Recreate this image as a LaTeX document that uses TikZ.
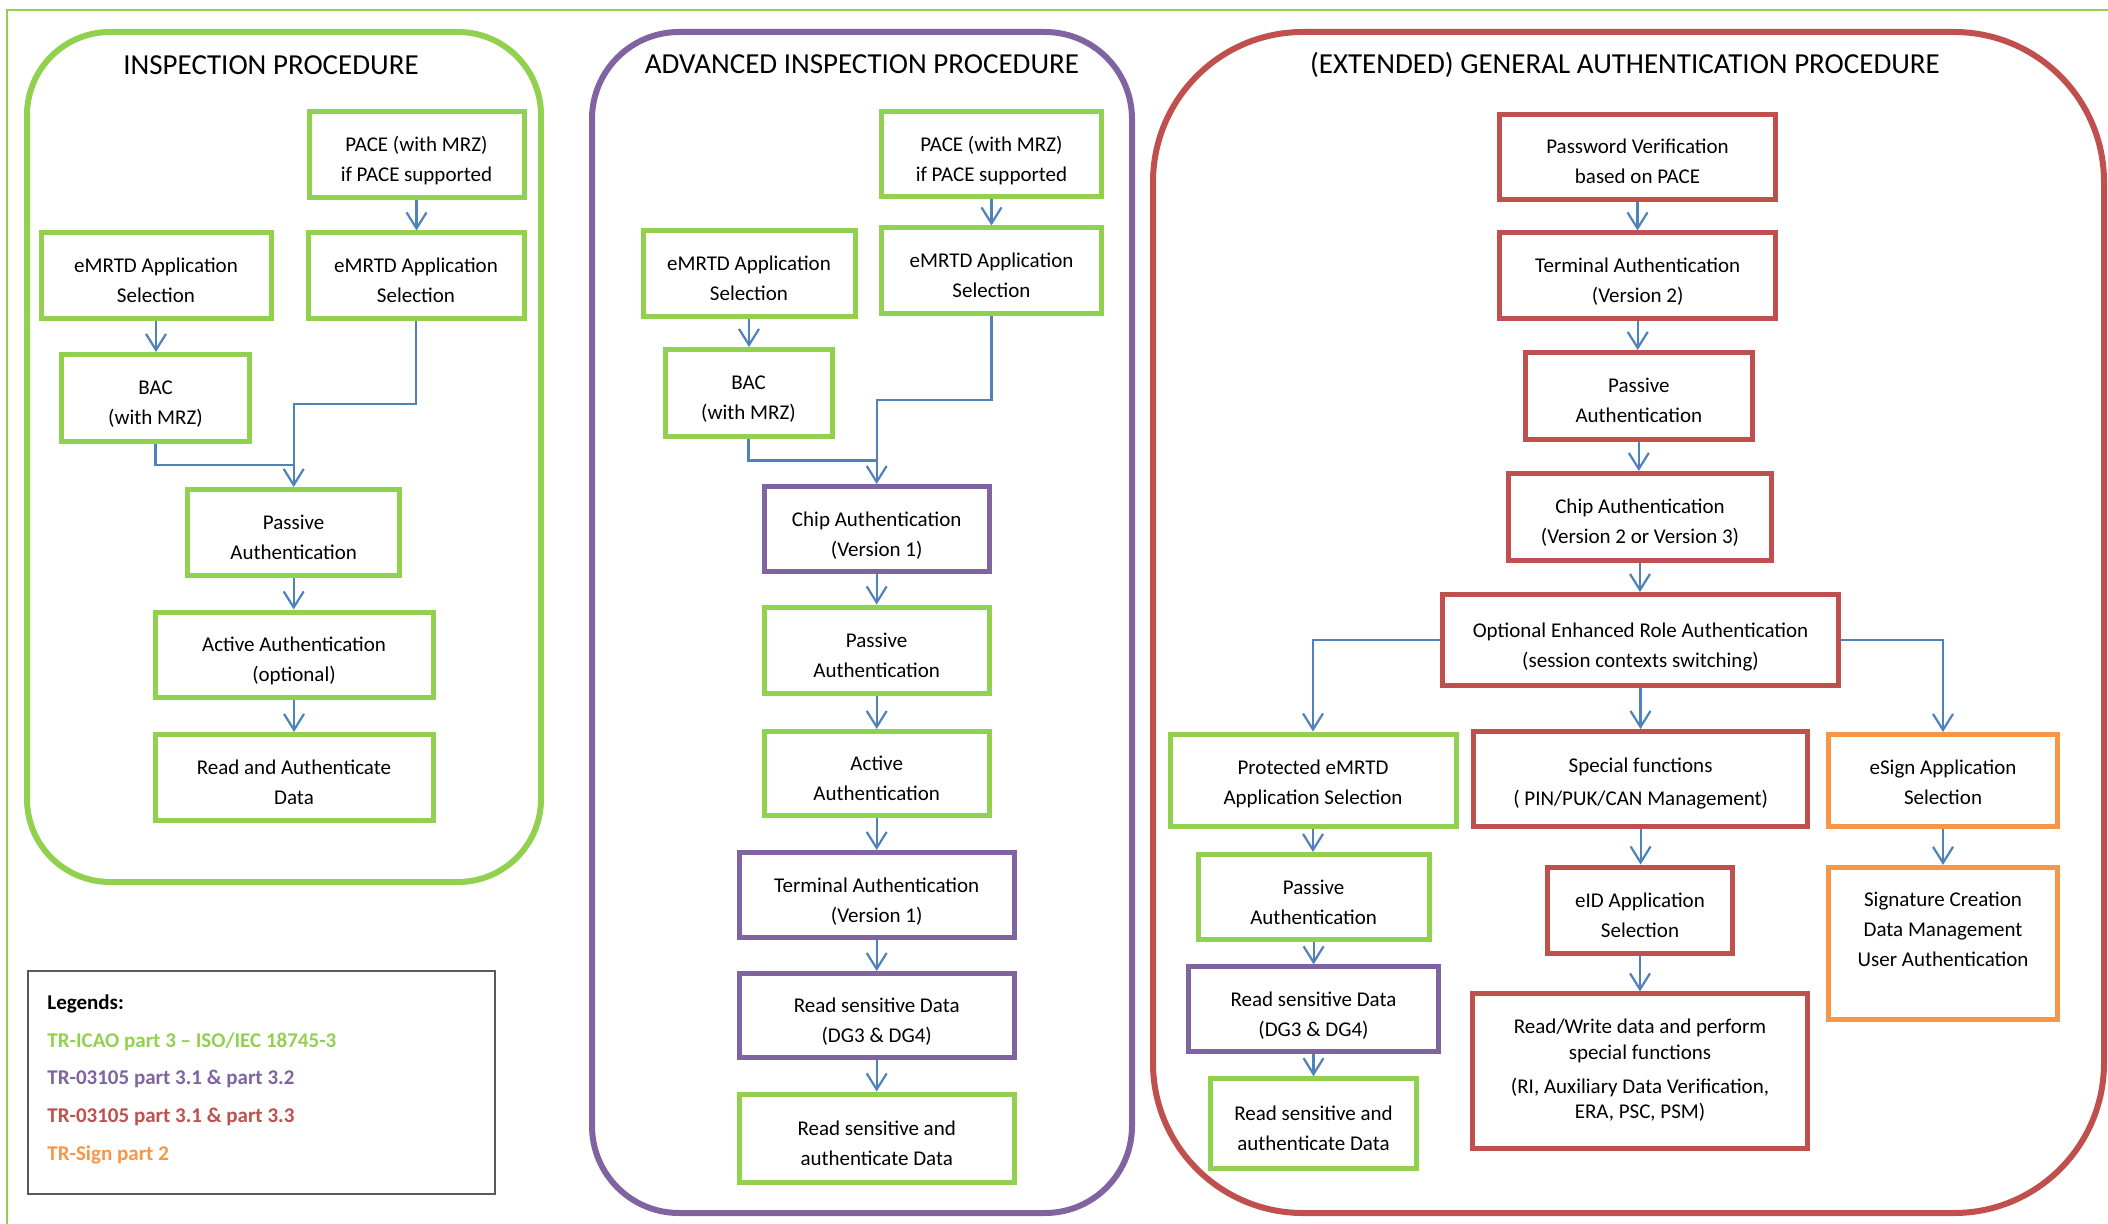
\documentclass[tikz,border=0pt]{standalone}
\usepackage{fontspec}
\setmainfont{Carlito}
\usetikzlibrary{arrows.meta}

\definecolor{lgreen}{RGB}{146,208,80}
\definecolor{lpurple}{RGB}{128,100,162}
\definecolor{lred}{RGB}{192,80,77}
\definecolor{lorange}{RGB}{247,150,70}
\definecolor{lblue}{RGB}{79,129,189}
\definecolor{lgray}{RGB}{89,89,89}

\begin{document}
\begin{tikzpicture}[x=0.5pt, y=-0.5pt,
  box/.style={draw, line width=2.5pt, fill=white, align=center, inner sep=0pt,
    text height=28pt, text depth=1pt, font=\fontsize{10.5}{15}\selectfont},
  gbox/.style={box, draw=lgreen}, pbox/.style={box, draw=lpurple},
  rbox/.style={box, draw=lred}, obox/.style={box, draw=lorange},
  wh/.style 2 args={minimum width=#1*0.5pt, minimum height=#2*0.5pt},
  lowtext/.style={text height=#1, text depth=1pt},
  panel/.style={line width=3pt, rounded corners=#1*0.5pt},
  ttl/.style={anchor=base, font=\fontsize{14.5}{17}\selectfont},
  lnk/.style={draw=lblue, line width=1.1pt},
  conn/.style={lnk, -{Straight Barb[length=8pt, width=10pt]}},
  leg/.style={anchor=base west, inner sep=0pt, font=\fontsize{10.5}{13}\selectfont\bfseries}]
\useasboundingbox (0,0) rectangle (2108,1224);

\draw[lgreen, line width=0.8pt] (2108,10) -- (7,10) -- (7,1224); % page frame

% the three procedures
\draw[lgreen, panel=83] (27,32) rectangle (541,882);
\draw[lpurple, panel=87] (592,32) rectangle (1132,1213);
\draw[lred, panel=150] (1153,32) rectangle (2104,1213);
\node[ttl] (t1) at (271,74.5) {INSPECTION PROCEDURE};
\node[ttl] (t2) at (862,73.5) {ADVANCED INSPECTION PROCEDURE};
\node[ttl] (t3) at (1625,73.5) {(EXTENDED) GENERAL AUTHENTICATION PROCEDURE};

% inspection procedure
\node[gbox, wh={215}{86}] (pace1) at (416.5,155) {PACE (with MRZ)\\if PACE supported};
\node[gbox, wh={230}{86}] (emrtdL1) at (156,276) {eMRTD Application\\Selection};
\node[gbox, wh={216}{86}] (emrtdR1) at (416,276) {eMRTD Application\\Selection};
\node[gbox, wh={188}{87}] (bac1) at (155.5,398) {BAC\\(with MRZ)};
\node[gbox, wh={212}{86}] (pa1) at (293.7,532.5) {Passive\\Authentication};
\node[gbox, wh={278}{85}] (aa1) at (294,654.5) {Active Authentication\\(optional)};
\node[gbox, wh={278}{86}] (rad1) at (294,777.5) {Read and Authenticate\\Data};

% advanced inspection procedure
\node[gbox, wh={220}{85}] (pace2) at (991.5,154.5) {PACE (with MRZ)\\if PACE supported};
\node[gbox, wh={212}{86}] (emrtdL2) at (749,273.3) {eMRTD Application\\Selection};
\node[gbox, wh={220}{86}] (emrtdR2) at (991.5,271) {eMRTD Application\\Selection};
\node[gbox, wh={167}{87}] (bac2) at (748.5,393) {BAC\\(with MRZ)};
\node[pbox, wh={225}{85}] (ca2) at (876.7,529) {Chip Authentication\\(Version 1)};
\node[gbox, wh={225}{86}] (pa2) at (876.7,650) {Passive\\Authentication};
\node[gbox, wh={225}{84}] (aa2) at (876.7,773.5) {Active\\Authentication};
\node[pbox, wh={275}{85}] (ta2) at (876.7,895) {Terminal Authentication\\(Version 1)};
\node[pbox, wh={275}{84}] (rsd2) at (876.7,1015.5) {Read sensitive Data\\(DG3 \& DG4)};
\node[gbox, wh={275}{88}] (rsa2) at (876.7,1138) {Read sensitive and\\authenticate Data};

% general authentication procedure
\node[rbox, wh={276}{85}] (pwd3) at (1637.5,157) {Password Verification\\based on PACE};
\node[rbox, wh={276}{86}] (ta3) at (1637.7,276) {Terminal Authentication\\(Version 2)};
\node[rbox, wh={227}{87}] (pa3) at (1638.8,396) {Passive\\Authentication};
\node[rbox, wh={263}{87}] (ca3) at (1640,517) {Chip Authentication\\(Version 2 or Version 3)};
\node[rbox, wh={396}{91}] (era3) at (1640.5,640) {Optional Enhanced Role Authentication\\(session contexts switching)};
\node[gbox, wh={286}{92}, lowtext=25pt] (prot3) at (1313,780) {Protected eMRTD\\Application Selection};
\node[rbox, wh={334}{95}, lowtext=27pt] (sf3) at (1640.6,779) {Special functions\\[1.5pt]( PIN/PUK/CAN Management)};
\node[obox, wh={229}{92}, lowtext=25pt] (esign3) at (1943,780.5) {eSign Application\\Selection};
\node[gbox, wh={231}{85}] (pa3b) at (1313.6,897) {Passive\\Authentication};
\node[rbox, wh={185}{86}] (eid3) at (1640,910) {eID Application\\Selection};
\node[obox, wh={229}{152}, lowtext=24pt] (sig3) at (1943,943.4) {Signature Creation\\Data Management\\User Authentication};
\node[pbox, wh={250}{85}] (rsd3) at (1313.5,1009.4) {Read sensitive Data\\(DG3 \& DG4)};
\node[rbox, wh={335}{155}, lowtext=48.1pt, font=\fontsize{10.5}{12.75}\selectfont] (rw3) at (1640,1071.4)
  {Read/Write data and perform\\special functions\\[4.25pt](RI, Auxiliary Data Verification,\\ERA, PSC, PSM)};
\node[gbox, wh={206}{90}] (rsa3) at (1313.5,1123.7) {Read sensitive and\\authenticate Data};

% connectors
\coordinate (j1) at (293.7,404); \coordinate (m1) at (293.7,465);
\coordinate (j2) at (876.7,400); \coordinate (m2) at (876.7,460.6);
\foreach \a/\b in {pace1/emrtdR1, emrtdL1/bac1, pa1/aa1, aa1/rad1,
    pace2/emrtdR2, emrtdL2/bac2, ca2/pa2, pa2/aa2, aa2/ta2, ta2/rsd2, rsd2/rsa2,
    pwd3/ta3, ta3/pa3, pa3/ca3, ca3/era3, era3/sf3, prot3/pa3b, pa3b/rsd3,
    rsd3/rsa3, sf3/eid3, eid3/rw3, esign3/sig3}
  \draw[conn] (\a.south) -- (\a.south |- \b.north);
\draw[conn] (emrtdR1.south) |- (j1) -- (pa1.north);
\draw[lnk] (bac1.south) |- (m1);
\draw[conn] (emrtdR2.south) |- (j2) -- (ca2.north);
\draw[lnk] (bac2.south) |- (m2);
\draw[conn] (era3.west) -| (prot3.north);
\draw[conn] (era3.east) -| (esign3.north);

% legend
\draw[lgray, line width=0.75pt] (28,971) rectangle (495,1194);
\node[leg] (lg0) at (47,1009) {Legends:};
\node[leg, text=lgreen] (lg1) at (47,1047) {TR-ICAO part 3 – ISO/IEC 18745-3};
\node[leg, text=lpurple] (lg2) at (47,1084) {TR-03105 part 3.1 \& part 3.2};
\node[leg, text=lred] (lg3) at (47,1122) {TR-03105 part 3.1 \& part 3.3};
\node[leg, text=lorange] (lg4) at (47,1160) {TR-Sign part 2};
\end{tikzpicture}
\end{document}
